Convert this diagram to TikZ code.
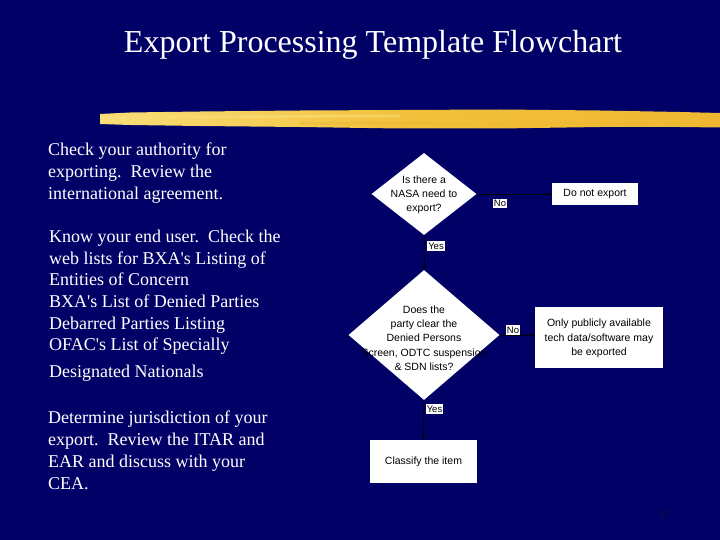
\documentclass[tikz,border=0pt]{standalone}
\usepackage{fontspec}
\setmainfont{Liberation Serif}[Ligatures=TeXOff]
\newfontfamily\chartfont{Liberation Sans}
\usetikzlibrary{shapes.geometric,arrows.meta}
\definecolor{navy}{RGB}{0,0,102}
\definecolor{pagenum}{RGB}{14,14,74}
\definecolor{brushA}{RGB}{250,222,120}
\definecolor{brushB}{RGB}{242,192,58}
\definecolor{brushC}{RGB}{240,184,50}
\begin{document}
\begin{tikzpicture}[x=1pt,y=-1pt,
  bodytext/.style={text=white, font=\fontsize{18}{21.7}\selectfont, align=left, anchor=base west, inner sep=0pt},
  decision/.style={diamond, fill=white, inner sep=0pt},
  boxtext/.style={text=black, font=\chartfont\fontsize{10.5}{13.8}\selectfont, align=center, inner sep=0pt},
  procbox/.style={rectangle, fill=white, inner sep=0pt},
  tag/.style={fill=white, text=black, font=\chartfont\fontsize{9.5}{10}\selectfont, inner sep=1.2pt},
  conn/.style={draw=black, line width=0.8pt, -{Stealth[length=4pt,width=4pt]}}]
\useasboundingbox (0,0) rectangle (720,540);
\fill[navy] (0,0) rectangle (720,540);

% title
\node[text=white, font=\fontsize{32}{36}\selectfont, anchor=base, inner sep=0pt] (title) at (373,53) {Export Processing Template Flowchart};

% brush stroke
\shade[left color=brushA, right color=brushC, middle color=brushB]
  (100,114) -- (130,112.5) -- (200,111.5) -- (300,110.5) -- (400,110) -- (500,109.5)
  -- (600,110.5) -- (680,112) -- (720,113) -- (720,127.5) -- (680,127) -- (600,127)
  -- (500,128.5) -- (400,128.5) -- (300,127) -- (200,126) -- (130,125) -- (100,124) -- cycle;
\fill[brushA, opacity=0.6] (110,116) -- (250,115) -- (400,114.5) -- (400,117) -- (250,118) -- (110,119) -- cycle;
\fill[brushC, opacity=0.5] (300,122) -- (500,121.5) -- (650,122.5) -- (650,125) -- (500,124.5) -- (300,125) -- cycle;

% left column text (anchor = baseline of the last line)
\node[bodytext] (t1) at (48,199.4) {Check your authority for\\exporting.\ \ Review the\\international agreement.};
\node[bodytext] (t2) at (49,377.5) {Know your end user.\ \ Check the\\web lists for BXA's Listing of\\Entities of Concern\\BXA's List of Denied Parties\\Debarred Parties Listing\\OFAC's List of Specially\\[5pt]Designated Nationals};
\node[bodytext] (t3) at (48,489) {Determine jurisdiction of your\\export.\ \ Review the ITAR and\\EAR and discuss with your\\CEA.};

% flowchart
\node[decision, minimum width=105pt, minimum height=82pt] (d1) at (424,194) {};
\node[boxtext] (d1t) at (424,195) {Is there a\\NASA need to\\export?};
\node[procbox, minimum width=86pt, minimum height=22pt] (b1) at (595,194) {};
\node[boxtext] (b1t) at (595,194) {Do not export};

\node[decision, minimum width=151pt, minimum height=130pt] (d2) at (424,335) {};
\node[boxtext, font=\chartfont\fontsize{10.5}{14.3}\selectfont] (d2t) at (424,338) {Does the\\party clear the\\Denied Persons\\Screen, ODTC suspension\\\& SDN lists?};
\node[procbox, minimum width=128pt, minimum height=61pt] (b2) at (599,337.5) {};
\node[boxtext, font=\chartfont\fontsize{10.5}{14.5}\selectfont] (b2t) at (599,338.5) {Only publicly available\\tech data/software may\\be exported};

\node[procbox, minimum width=107pt, minimum height=43pt] (b3) at (423.5,461.5) {};
\node[boxtext] (b3t) at (423.5,462) {Classify the item};

% connectors
\draw[conn] (d1.east) -- (b1.west);
\draw[conn] (d1.south) -- (d2.north);
\draw[conn] (d2.east) -- (d2.east -| b2.west);
\draw[conn] (d2.south) -- (b3.north);

% labels
\node[tag] (no1) at (500,203.5) {No};
\node[tag] (yes1) at (436,246) {Yes};
\node[tag] (no2) at (513,330) {No};
\node[tag] (yes2) at (434.5,409) {Yes};

% page number
\node[text=pagenum, font=\fontsize{12}{14}\selectfont, inner sep=0pt] (pg) at (665,515) {87};
\end{tikzpicture}
\end{document}
